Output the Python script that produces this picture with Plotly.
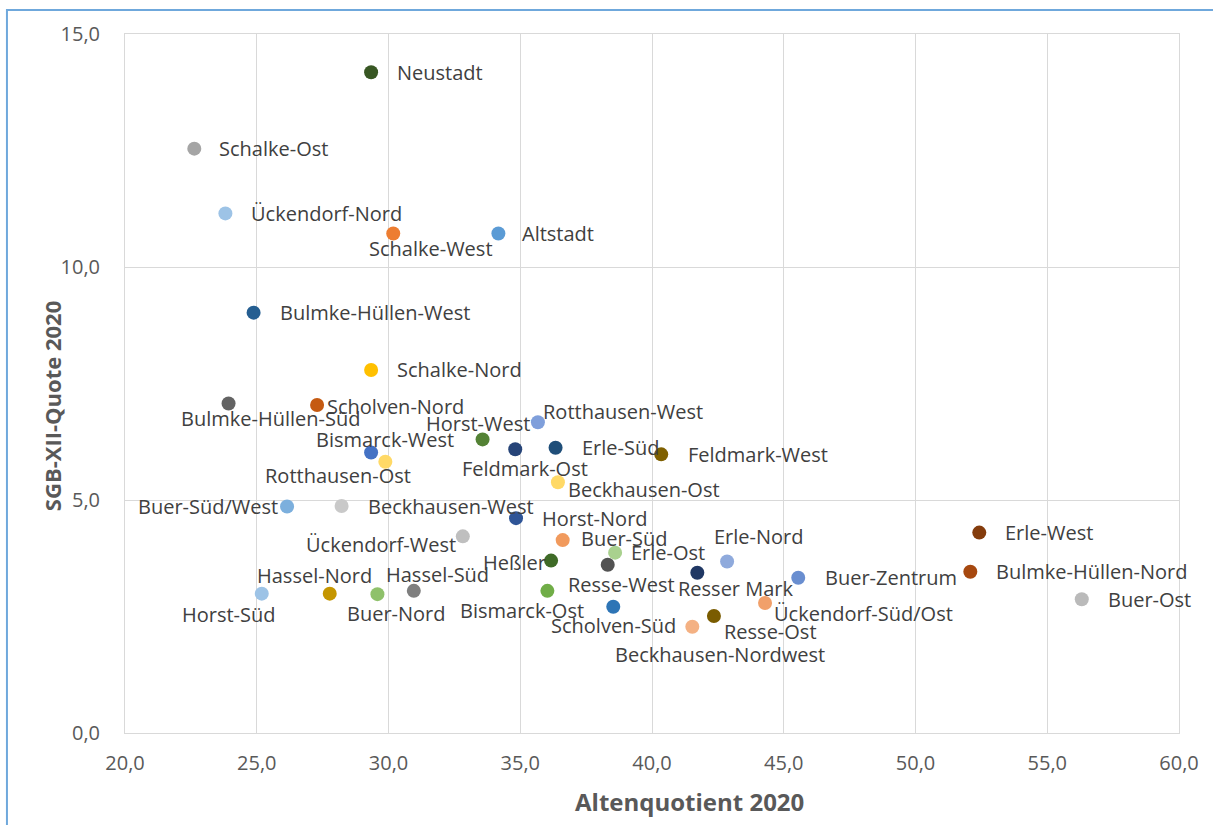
import plotly.graph_objects as go

names = ["Neustadt", "Schalke-Ost", "Ückendorf-Nord", "Schalke-West", "Altstadt",
         "Bulmke-Hüllen-West", "Schalke-Nord", "Bulmke-Hüllen-Süd", "Scholven-Nord",
         "Horst-West", "Rotthausen-West", "Feldmark-Ost", "Erle-Süd", "Feldmark-West",
         "Bismarck-West", "Rotthausen-Ost", "Beckhausen-Ost", "Buer-Süd/West",
         "Beckhausen-West", "Horst-Nord", "Ückendorf-West", "Buer-Süd", "Erle-Ost",
         "Heßler", "Resse-West", "Erle-Nord", "Resser Mark", "Buer-Zentrum",
         "Erle-West", "Bulmke-Hüllen-Nord", "Buer-Ost", "Horst-Süd", "Hassel-Nord",
         "Buer-Nord", "Hassel-Süd", "Bismarck-Ost", "Scholven-Süd",
         "Ückendorf-Süd/Ost", "Resse-Ost", "Beckhausen-Nordwest"]

altenquotient = [29.34, 22.63, 23.81, 30.18, 34.17,
                 24.88, 29.34, 23.93, 27.29,
                 33.57, 35.67, 34.81, 36.34, 40.35,
                 29.34, 29.88, 36.43, 26.15,
                 28.22, 34.84, 32.82, 36.61, 38.60,
                 36.17, 38.32, 42.85, 41.72, 45.55,
                 52.42, 52.08, 56.31, 25.19, 27.77,
                 29.58, 30.96, 36.03, 38.53,
                 44.29, 42.35, 41.53]

sgb_quote = [14.18, 12.54, 11.15, 10.72, 10.72,
             9.02, 7.79, 7.07, 7.04,
             6.30, 6.67, 6.09, 6.12, 5.98,
             6.02, 5.82, 5.38, 4.86,
             4.87, 4.61, 4.22, 4.14, 3.87,
             3.70, 3.61, 3.68, 3.44, 3.33,
             4.30, 3.46, 2.87, 2.99, 2.99,
             2.98, 3.05, 3.05, 2.71,
             2.79, 2.51, 2.28]

colors = ["#385723", "#A5A5A5", "#9DC3E6", "#ED7D31", "#5B9BD5",
          "#255E91", "#FFC000", "#636363", "#C55A11",
          "#548235", "#7F9FDB", "#264478", "#1F4E79", "#7F6000",
          "#4472C4", "#FFD966", "#FFD966", "#7CAFDD",
          "#C9C9C9", "#2F5597", "#BFBFBF", "#F19A5D", "#A9D18E",
          "#3F6B27", "#525252", "#8FAADC", "#203864", "#698ED0",
          "#843C0C", "#A6480F", "#BABABA", "#9DC3E6", "#C59600",
          "#8FC16B", "#7F7F7F", "#70AD47", "#2E75B6",
          "#F1A06A", "#7A5C00", "#F4B183"]

# label placement (xshift, yshift in px, xanchor)
label_pos = {
    "Neustadt": (24, 0, "left"), "Schalke-Ost": (23, 0, "left"),
    "Ückendorf-Nord": (24, 0, "left"), "Schalke-West": (38, -15, "center"),
    "Altstadt": (22, 0, "left"), "Bulmke-Hüllen-West": (24, 0, "left"),
    "Schalke-Nord": (24, 0, "left"), "Bulmke-Hüllen-Süd": (42, -15, "center"),
    "Scholven-Nord": (8, -2, "left"), "Horst-West": (-5, 16, "center"),
    "Rotthausen-West": (3, 11, "left"), "Feldmark-Ost": (10, -19, "center"),
    "Erle-Süd": (24, 0, "left"), "Feldmark-West": (25, 0, "left"),
    "Bismarck-West": (14, 13, "center"), "Rotthausen-Ost": (-47, -14, "center"),
    "Beckhausen-Ost": (8, -7, "left"), "Buer-Süd/West": (-7, 0, "right"),
    "Beckhausen-West": (24, 0, "left"), "Horst-Nord": (24, 0, "left"),
    "Ückendorf-West": (-5, -8, "right"), "Buer-Süd": (16, 2, "left"),
    "Erle-Ost": (14, 0, "left"), "Heßler": (-3, -2, "right"),
    "Resse-West": (14, -20, "center"), "Erle-Nord": (32, 25, "center"),
    "Resser Mark": (39, -16, "center"), "Buer-Zentrum": (25, 0, "left"),
    "Erle-West": (24, 0, "left"), "Bulmke-Hüllen-Nord": (24, 0, "left"),
    "Buer-Ost": (24, 0, "left"), "Horst-Süd": (-33, -21, "center"),
    "Hassel-Nord": (-15, 18, "center"), "Buer-Nord": (19, -19, "center"),
    "Hassel-Süd": (24, 16, "center"), "Bismarck-Ost": (-25, -20, "center"),
    "Scholven-Süd": (0, -19, "center"), "Ückendorf-Süd/Ost": (7, -11, "left"),
    "Resse-Ost": (8, -15, "left"), "Beckhausen-Nordwest": (28, -28, "center"),
}

x_ticks = [20, 25, 30, 35, 40, 45, 50, 55, 60]
y_ticks = [0, 5, 10, 15]

FONT = "Open Sans, Noto Sans, sans-serif"

fig = go.Figure()
fig.add_trace(go.Scatter(
    x=altenquotient, y=sgb_quote, mode="markers",
    marker=dict(size=14, color=colors, line=dict(width=0)),
    text=names, hoverinfo="text", showlegend=False,
))

annotations = []
for n, xv, yv in zip(names, altenquotient, sgb_quote):
    xs, ys, xa = label_pos[n]
    annotations.append(dict(
        x=xv, y=yv, xref="x", yref="y", text=n, showarrow=False,
        xanchor=xa, yanchor="middle", xshift=xs, yshift=ys,
        font=dict(family=FONT, size=20, color="#404040"),
    ))

annotations.append(dict(
    x=0.536, y=-0.098, xref="paper", yref="paper", text="<b>Altenquotient 2020</b>",
    showarrow=False, xanchor="center", yanchor="middle",
    font=dict(family=FONT, size=24, color="#595959"),
))
annotations.append(dict(
    x=-0.069, y=0.468, xref="paper", yref="paper", text="<b>SGB-XII-Quote 2020</b>",
    showarrow=False, xanchor="center", yanchor="middle", textangle=-90,
    font=dict(family=FONT, size=22, color="#595959"),
))

fig.update_layout(
    width=1213, height=825,
    margin=dict(l=125, r=34, t=34, b=92),
    paper_bgcolor="white", plot_bgcolor="white",
    separators=",.",
    annotations=annotations,
    shapes=[dict(type="rect", xref="paper", yref="paper",
                 x0=-0.112, x1=1.2, y0=-0.3, y1=1.0343,
                 line=dict(color="#6FA8DC", width=2), layer="below")],
    xaxis=dict(range=[20, 60], tickvals=x_ticks, tickformat=".1f",
               showgrid=True, gridcolor="#D9D9D9", gridwidth=1,
               showline=True, linecolor="#D9D9D9", linewidth=1, mirror=True,
               zeroline=False, ticks="", ticklabelstandoff=12,
               tickfont=dict(family=FONT, size=20, color="#595959")),
    yaxis=dict(range=[0, 15], tickvals=y_ticks, tickformat=".1f",
               showgrid=True, gridcolor="#D9D9D9", gridwidth=1,
               showline=True, linecolor="#D9D9D9", linewidth=1, mirror=True,
               zeroline=False, ticks="", ticklabelstandoff=20,
               tickfont=dict(family=FONT, size=20, color="#595959")),
)

fig.write_html("out.html")
